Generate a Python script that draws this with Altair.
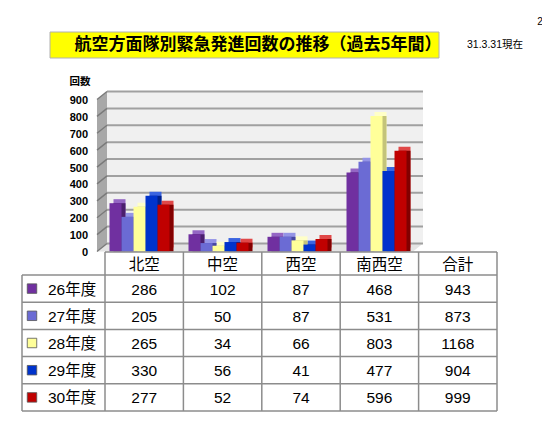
import altair as alt
import pandas as pd

# ---------------- data ----------------
categories = ["北空", "中空", "西空", "南西空"]
total_label = "合計"
years = ["26年度", "27年度", "28年度", "29年度", "30年度"]
v26 = [286, 102, 87, 468]
v27 = [205, 50, 87, 531]
v28 = [265, 34, 66, 803]
v29 = [330, 56, 41, 477]
v30 = [277, 52, 74, 596]
totals = [943, 873, 1168, 904, 999]
y_ticks = [0, 100, 200, 300, 400, 500, 600, 700, 800, 900]
series = [v26, v27, v28, v29, v30]

title_text = "航空方面隊別緊急発進回数の推移（過去5年間）"
date_text = "31.3.31現在"
page_text = "2"
y_title = "回数"

# ---------------- styles ----------------
FRONT = ["#7030a0", "#6b6bd4", "#ffff99", "#0033cc", "#c00000"]
SIDE = ["#4b1f6e", "#4646a0", "#c4c47a", "#00208a", "#820000"]
TOP = ["#9466c4", "#9494e6", "#ffffc8", "#3a64e0", "#e04848"]
FONT = "Liberation Sans, Noto Sans CJK JP, sans-serif"
CJK = "Noto Sans CJK JP, sans-serif"
GRID = "#a0a0a0"
LINE = "#8c8c8c"

# ---------------- layout (plot px, chart origin at page 8,8) ----------------
CAT_X0, CAT_PX = 89, 79.0
Y_ZERO, Y_TOP = 243.5, 91.5
Y_MAX = y_ticks[-1]
PX_PER = (Y_ZERO - Y_TOP) / Y_MAX
GROUP_LEFT, BAR_PX = 12.5, 12.0
WALL_DX, WALL_DY = 10, 8
BAR_D = 4

TX0, COL_PX = 97, 78.4
TY0, ROW_PX = 267, 27.2
HDR = 23 / ROW_PX
LEG = 83 / COL_PX

ncat = len(categories)
ncol = ncat + 1
nrow = len(years)

X_CAT = alt.Scale(domain=[0, ncat], range=[CAT_X0, CAT_X0 + ncat * CAT_PX], nice=False, zero=False)
Y_CNT = alt.Scale(domain=[0, Y_MAX], range=[Y_ZERO, Y_TOP], nice=False, zero=False)
X_TAB = alt.Scale(domain=[0, ncol], range=[TX0, TX0 + ncol * COL_PX], nice=False, zero=False)
Y_TAB = alt.Scale(domain=[0, nrow], range=[TY0, TY0 + nrow * ROW_PX], nice=False, zero=False)

# ---------------- chart part ----------------
DX = WALL_DX / CAT_PX
DY = WALL_DY / PX_PER

wall = pd.DataFrame({"x0": [0], "x1": [ncat], "y0": [0], "y1": [Y_MAX]})
side_wall = pd.DataFrame({"x": [0, DX], "y": [0, DY], "y2": [Y_MAX, Y_MAX + DY]})
floor = pd.DataFrame({"y": [0, DY], "x": [0, DX], "x2": [ncat, ncat + DX]})
grid = pd.DataFrame({"v": y_ticks, "x0": 0, "x1": ncat, "lab": [str(t) for t in y_ticks]})

rows = []
for j, (yr, vals) in enumerate(zip(years, series)):
    for k, (cat, v) in enumerate(zip(categories, vals)):
        xl = k + (GROUP_LEFT + j * BAR_PX) / CAT_PX
        rows.append({"cat": cat, "year": yr, "value": v, "xl": xl, "xr": xl + BAR_PX / CAT_PX, "zero": 0})
bars = pd.DataFrame(rows)

def cx(f):
    return alt.X(f, type="quantitative", scale=X_CAT, axis=None)

def cy(f):
    return alt.Y(f, type="quantitative", scale=Y_CNT, axis=None)

floor_l = alt.Chart(floor).mark_area(orient="horizontal", color="#e4e4e4").encode(
    y=cy("y"), x=cx("x"), x2="x2")
back_l = alt.Chart(wall).mark_rect(color="#f0f0f0", xOffset=WALL_DX, x2Offset=WALL_DX,
                                  yOffset=-WALL_DY, y2Offset=-WALL_DY).encode(
    x=cx("x0"), x2="x1", y=cy("y0"), y2="y1")
side_l = alt.Chart(side_wall).mark_area(orient="vertical", color="#a8a8a8").encode(
    x=cx("x"), y=cy("y"), y2="y2")
bgrid_l = alt.Chart(grid).mark_rule(color=GRID, strokeWidth=2, xOffset=WALL_DX, x2Offset=WALL_DX,
                                    yOffset=-WALL_DY).encode(
    x=cx("x0"), x2="x1", y=cy("v"))
sgrid_l = alt.Chart(grid).mark_rule(color="#7a7a7a", strokeWidth=1.5, x2Offset=WALL_DX,
                                    y2Offset=-WALL_DY).encode(
    x=cx("x0"), x2="x0", y=cy("v"), y2="v")
bar_top = alt.Chart(bars).mark_rect(xOffset=BAR_D, x2Offset=BAR_D, yOffset=-BAR_D, y2Offset=-BAR_D).encode(
    x=cx("xl"), x2="xr", y=cy("value"), y2="zero",
    color=alt.Color("year:N", scale=alt.Scale(domain=years, range=TOP), legend=None))
bar_side = alt.Chart(bars).mark_rect(xOffset=BAR_D, x2Offset=BAR_D).encode(
    x=cx("xl"), x2="xr", y=cy("value"), y2="zero",
    color=alt.Color("year:N", scale=alt.Scale(domain=years, range=SIDE), legend=None))
bar_front = alt.Chart(bars).mark_rect().encode(
    x=cx("xl"), x2="xr", y=cy("value"), y2="zero",
    color=alt.Color("year:N", scale=alt.Scale(domain=years, range=FRONT), legend=None))
ylab_l = alt.Chart(grid).mark_text(align="right", baseline="middle", dx=-9, dy=1.5,
                                   font=FONT, fontSize=11, fontWeight="bold", color="#000").encode(
    x=cx("x0"), y=cy("v"), text="lab:N")

chart_part = alt.layer(floor_l, back_l, side_l, bgrid_l, sgrid_l, bar_top, bar_side, bar_front,
                       ylab_l).resolve_scale(color="independent")

# ---------------- table part ----------------
lines = [{"x": 0, "x2": ncol, "y": -HDR, "y2": -HDR}]
lines += [{"x": -LEG, "x2": ncol, "y": r, "y2": r} for r in range(nrow + 1)]
lines += [{"x": -LEG, "x2": -LEG, "y": 0, "y2": nrow}]
lines += [{"x": u, "x2": u, "y": -HDR, "y2": nrow} for u in range(ncol + 1)]
lines = pd.DataFrame(lines)

headers = pd.DataFrame({"t": categories + [total_label], "u": [k + 0.5 for k in range(ncol)],
                        "r": -HDR / 2})
cells = []
for j, vals in enumerate(series):
    for k, v in enumerate(vals + [totals[j]]):
        cells.append({"t": str(v), "u": k + 0.5, "r": j + 0.5})
cells = pd.DataFrame(cells)
legend = pd.DataFrame({"year": years, "r": [j + 0.5 for j in range(nrow)],
                       "us": -LEG + 10 / COL_PX, "ut": -LEG + 26 / COL_PX})

def tx(f):
    return alt.X(f, type="quantitative", scale=X_TAB, axis=None)

def ty(f):
    return alt.Y(f, type="quantitative", scale=Y_TAB, axis=None)

lines_l = alt.Chart(lines).mark_rule(color=LINE, strokeWidth=1.5).encode(
    x=tx("x"), x2="x2", y=ty("y"), y2="y2")
head_l = alt.Chart(headers).mark_text(font=CJK, fontSize=15.5, baseline="middle", dy=1, color="#000").encode(
    x=tx("u"), y=ty("r"), text="t:N")
cell_l = alt.Chart(cells).mark_text(font=FONT, fontSize=15.5, baseline="middle", dy=1, color="#000").encode(
    x=tx("u"), y=ty("r"), text="t:N")
sq_l = alt.Chart(legend).mark_square(size=90, opacity=1, stroke="#555", strokeWidth=0.8).encode(
    x=tx("us"), y=ty("r"),
    fill=alt.Fill("year:N", scale=alt.Scale(domain=years, range=FRONT), legend=None))
leg_l = alt.Chart(legend).mark_text(font=FONT, fontSize=15.5, align="left", baseline="middle", dy=1,
                                    color="#000").encode(
    x=tx("ut"), y=ty("r"), text="year:N")

table_part = alt.layer(lines_l, head_l, cell_l, sq_l, leg_l)

# ---------------- annotations ----------------
one = pd.DataFrame({"a": [0]})
title_box = alt.Chart(one).mark_rect(fill="#ffff00", stroke="#b0b0b0", strokeWidth=1).encode(
    x=alt.value(42), x2=alt.value(431), y=alt.value(24), y2=alt.value(50))
title_l = alt.Chart(one).mark_text(text=title_text, font=CJK, fontSize=17, fontWeight="bold",
                                   baseline="middle", color="#000").encode(
    x=alt.value(250), y=alt.value(37))
date_l = alt.Chart(one).mark_text(text=date_text, font=FONT, fontSize=10.5, align="left",
                                  baseline="middle", color="#000").encode(
    x=alt.value(459), y=alt.value(37))
page_l = alt.Chart(one).mark_text(text=page_text, font=FONT, fontSize=10, baseline="middle",
                                  color="#000").encode(
    x=alt.value(532), y=alt.value(14))
ytitle_l = alt.Chart(one).mark_text(text=y_title, font=CJK, fontSize=10.5, fontWeight="bold",
                                    baseline="middle", color="#000").encode(
    x=alt.value(72), y=alt.value(74))

chart = alt.layer(
    title_box, title_l, date_l, page_l, ytitle_l, chart_part, table_part
).resolve_scale(x="independent", y="independent").properties(
    width=534, height=405, padding=0, autosize="none", background="white"
).configure_view(stroke=None)

chart.save("out.html", embed_options={"renderer": "svg", "actions": False})
